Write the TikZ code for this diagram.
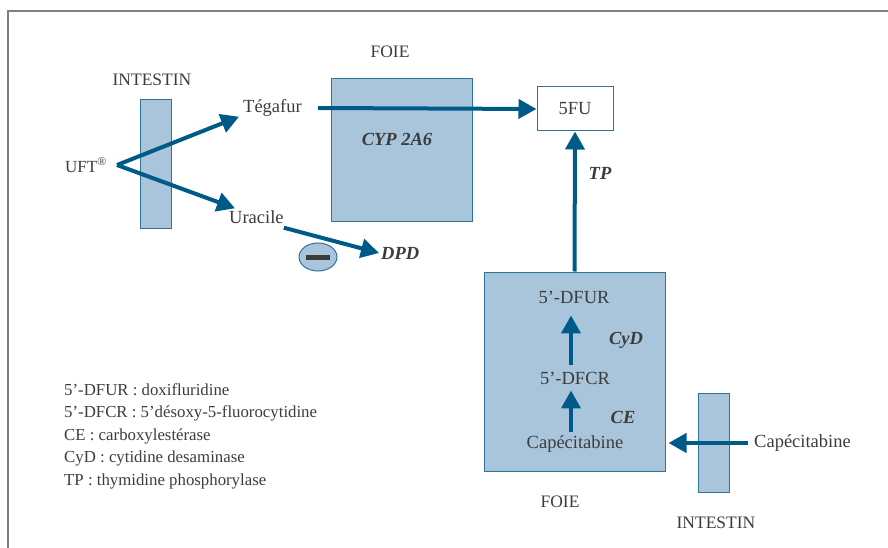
\documentclass[tikz,border=0pt]{standalone}
\usepackage{fontspec}
\setmainfont{Liberation Serif}
\usetikzlibrary{arrows.meta,positioning,shapes.geometric}
\definecolor{organ}{HTML}{A9C5DC}
\definecolor{organline}{HTML}{2F7399}
\definecolor{flux}{HTML}{005A87}
\definecolor{texte}{HTML}{3C3C3C}

\begin{document}
\begin{tikzpicture}[x=1pt,y=-1pt,>={Triangle[length=18pt,width=19pt]},
		organe/.style={draw=organline,fill=organ,line width=1pt,inner sep=0pt},
		fleche/.style={->,draw=flux,line width=4pt},
		lab/.style={text=texte,inner sep=2pt,font=\fontsize{18.5}{20}\selectfont},
		titre/.style={text=texte,inner sep=2pt,font=\fontsize{17.5}{20}\selectfont},
		enz/.style={text=texte,inner sep=2pt,font=\fontsize{18.5}{20}\selectfont\bfseries\itshape}]
		\useasboundingbox (0,0) rectangle (888,548);
		\draw[gray,line width=1.2pt] (8,548) -- (8,11) -- (888,11);
		% UFT
		\node[organe,minimum width=31pt,minimum height=128pt] (intG) at (155.5,164) {};
		\node[titre] (intGlab) at (152,80) {INTESTIN};
		\node[lab,font=\fontsize{17}{20}\selectfont] (uft) at (86,165) {UFT\textsuperscript{®}};
		\node[lab,anchor=west] (tega) at (241,108) {Tégafur};
		\node[lab,anchor=west] (ura) at (227,217) {Uracile};
		\node[organe,minimum width=141pt,minimum height=142pt] (foieH) at (401.5,150) {};
		\node[titre] (foieHlab) at (390,52) {FOIE};
		\node[enz] (cyp) at (397,139) {CYP 2A6};
		\node[draw=organline,fill=white,line width=1pt,minimum width=76pt,minimum height=44pt,lab] (fu) at (575,109) {5FU};
		\node[organe,minimum width=38pt,minimum height=28pt,ellipse] (moins) at (318,257) {};
		\fill[texte] (306,255) rectangle (330,260);
		\node[enz,anchor=west] (dpd) at (379,253) {DPD};
		\coordinate (fork) at ([xshift=8pt]uft.east);
		\draw[fleche] (fork) -- ([shift={(-2pt,2pt)}]tega.south west);
		\draw[fleche] (fork) -- ([xshift=8pt]ura.north west);
		\draw[fleche] ([shift={(-2pt,-2pt)}]ura.south east) -- (dpd.west);
		\draw[fleche] ([xshift=14pt]tega.east) -- (fu.west);
		% capecitabine
		\node[organe,minimum width=181pt,minimum height=199pt] (foieB) at (574.5,371.5) {};
		\node[titre] (foieBlab) at (560,502) {FOIE};
		\node[lab] (dfur) at (574,297) {5’-DFUR};
		\node[lab] (dfcr) at (575,378) {5’-DFCR};
		\node[lab] (capeB) at (575,444) {Capécitabine};
		\node[enz] (cyd) at (626,340) {CyD};
		\node[enz] (ce) at (623,417) {CE};
		\node[enz] (tp) at (600,173) {TP};
		\draw[fleche] (foieB.north) -- (fu.south);
		\draw[fleche,shorten <=5pt,shorten >=10pt] ([xshift=-4pt]dfcr.north) -- ([xshift=-4pt]dfcr.north |- dfur.south);
		\draw[fleche,shorten <=1pt,shorten >=4pt] ([xshift=-4pt]capeB.north) -- ([xshift=-4pt]capeB.north |- dfcr.south);
		\node[organe,minimum width=31pt,minimum height=99pt] (intD) at (713.5,442.5) {};
		\node[titre] (intDlab) at (716,523) {INTESTIN};
		\node[lab,anchor=west] (capeD) at (752,443) {Capécitabine};
		\draw[fleche,shorten <=4pt,shorten >=3pt] (capeD.west) -- (capeD.west -| foieB.east);
		% legende
		\node[lab,anchor=north west,align=left,font=\fontsize{16.8}{22.6}\selectfont] (legende) at (62,381)
			{5’-DFUR : doxifluridine\\5’-DFCR : 5’désoxy-5-fluorocytidine\\CE : carboxylestérase\\CyD : cytidine desaminase\\TP : thymidine phosphorylase};
	\end{tikzpicture}
\end{document}
